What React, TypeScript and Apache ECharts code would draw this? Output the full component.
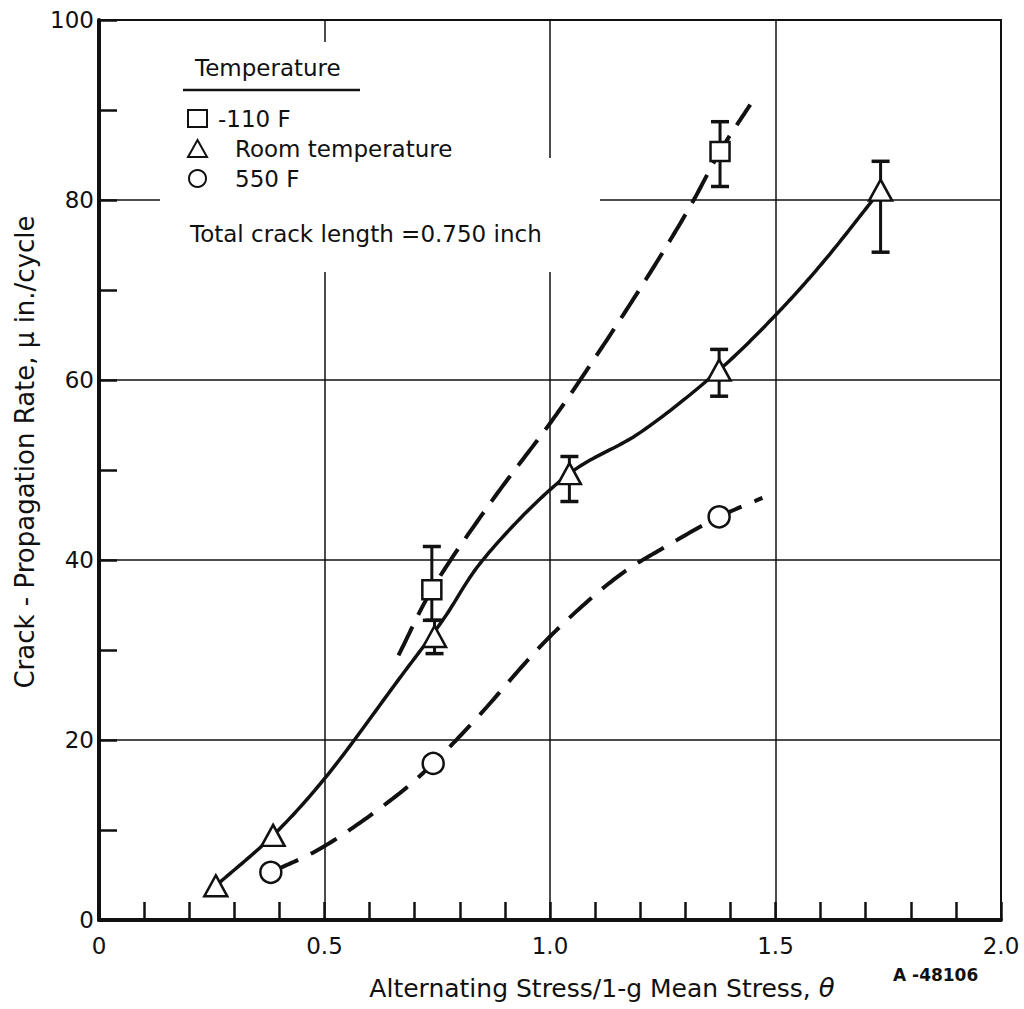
import React, { useEffect, useRef } from "react";
import * as echarts from "echarts";

// ---- data ----
const xTicks = ["0", "0.5", "1.0", "1.5", "2.0"];
const seriesNames = ["-110 F", "Room temperature", "550 F"];

// measured points (x = alternating stress ratio, y = crack propagation rate)
const coldPoints = [
  [0.738, 36.7],
  [1.377, 85.4],
];
const roomPoints = [
  [0.259, 3.8],
  [0.386, 9.4],
  [0.744, 31.5],
  [1.043, 49.6],
  [1.375, 61.1],
  [1.733, 81.1],
];
const hotPoints = [
  [0.381, 5.3],
  [0.741, 17.4],
  [1.375, 44.8],
];

// error bars: [x, low, high]
const coldErr = [
  [0.738, 33.3, 41.5],
  [1.377, 81.5, 88.7],
];
const roomErr = [
  [0.744, 29.6, 33.3],
  [1.043, 46.5, 51.5],
  [1.375, 58.2, 63.4],
  [1.733, 74.2, 84.3],
];

// faired curves
const coldCurve = [
  [0.664, 29.4],
  [0.738, 36.7],
  [0.873, 46.7],
  [1.006, 55.6],
  [1.099, 62.4],
  [1.228, 72.4],
  [1.312, 79.4],
  [1.377, 85.4],
  [1.444, 90.6],
];
const roomCurve = [
  [0.259, 3.8],
  [0.386, 9.4],
  [0.5, 15.7],
  [0.667, 26.9],
  [0.762, 33.3],
  [0.851, 40],
  [1.043, 49.6],
  [1.198, 54.1],
  [1.375, 61.1],
  [1.5, 67.2],
  [1.604, 73],
  [1.733, 81.1],
];
const hotCurve = [
  [0.381, 5.3],
  [0.493, 8.0],
  [0.662, 13.9],
  [0.741, 17.4],
  [0.837, 22.4],
  [1.0, 31.5],
  [1.154, 38.3],
  [1.257, 41.5],
  [1.375, 44.8],
  [1.471, 46.9],
];

const FONT = "DejaVu Sans";
const INK = "#111";

function errorBarRender(params: any, api: any) {
  const x = api.value(0);
  const lo = api.coord([x, api.value(1)]);
  const hi = api.coord([x, api.value(2)]);
  const w = 9;
  return {
    type: "group",
    children: [
      { type: "line", shape: { x1: hi[0], y1: hi[1], x2: lo[0], y2: lo[1] }, style: { stroke: INK, lineWidth: 3 } },
      { type: "line", shape: { x1: hi[0] - w, y1: hi[1], x2: hi[0] + w, y2: hi[1] }, style: { stroke: INK, lineWidth: 3.5 } },
      { type: "line", shape: { x1: lo[0] - w, y1: lo[1], x2: lo[0] + w, y2: lo[1] }, style: { stroke: INK, lineWidth: 3.5 } },
    ],
  };
}

// draws a smooth (centripetal Catmull-Rom) curve through the traced points,
// positioned with the chart's own coordinate system
function makeCurveRender(points: number[][], width: number, dash: number[] | null) {
  return (params: any, api: any) => {
    if (params.dataIndex !== 0) return null;
    const px: number[][] = points.map((p) => api.coord(p));
    const n = px.length;
    const out: number[][] = [];
    const lerp = (a: number[], b: number[], ta: number, tb: number, t: number) => {
      const d = tb - ta || 1e-6;
      return [((tb - t) / d) * a[0] + ((t - ta) / d) * b[0], ((tb - t) / d) * a[1] + ((t - ta) / d) * b[1]];
    };
    const dist = (a: number[], b: number[]) => Math.pow(Math.hypot(b[0] - a[0], b[1] - a[1]), 0.5) || 1e-6;
    for (let i = 0; i < n - 1; i++) {
      const p1 = px[i];
      const p2 = px[i + 1];
      const p0 = i > 0 ? px[i - 1] : [2 * p1[0] - p2[0], 2 * p1[1] - p2[1]];
      const p3 = i + 2 < n ? px[i + 2] : [2 * p2[0] - p1[0], 2 * p2[1] - p1[1]];
      const t0 = 0;
      const t1 = t0 + dist(p0, p1);
      const t2 = t1 + dist(p1, p2);
      const t3 = t2 + dist(p2, p3);
      const steps = 24;
      for (let s = 0; s <= steps; s++) {
        if (i > 0 && s === 0) continue;
        const t = t1 + ((t2 - t1) * s) / steps;
        const a1 = lerp(p0, p1, t0, t1, t);
        const a2 = lerp(p1, p2, t1, t2, t);
        const a3 = lerp(p2, p3, t2, t3, t);
        const b1 = lerp(a1, a2, t0, t2, t);
        const b2 = lerp(a2, a3, t1, t3, t);
        out.push(lerp(b1, b2, t1, t2, t));
      }
    }
    return {
      type: "polyline",
      shape: { points: out },
      style: { stroke: INK, lineWidth: width, fill: null, lineDash: dash || undefined, lineCap: "butt" },
    };
  };
}

export default function App() {
  const ref = useRef<HTMLDivElement>(null);

  useEffect(() => {
    document.body.style.margin = "0";
    const chart = echarts.init(ref.current!, null, { renderer: "svg" });
    const markerStyle = { color: "#fff", borderColor: INK, borderWidth: 2.5, opacity: 1 };

    chart.setOption({
      animation: false,
      backgroundColor: "#fff",
      textStyle: { fontFamily: FONT, color: INK },
      grid: {
        left: 99,
        right: 23,
        top: 20,
        bottom: 89,
        show: true,
        borderColor: INK,
        borderWidth: 2,
        backgroundColor: "transparent",
      },
      xAxis: {
        type: "value",
        min: 0,
        max: 2,
        interval: 0.5,
        axisLine: { show: true, onZero: false, lineStyle: { color: INK, width: 4 } },
        axisTick: { show: true, inside: true, length: 18, lineStyle: { color: INK, width: 2.5 } },
        minorTick: { show: true, splitNumber: 5, length: 18, lineStyle: { color: INK, width: 2.5 } },
        splitLine: { show: true, lineStyle: { color: INK, width: 1.5 } },
        axisLabel: {
          fontFamily: FONT,
          fontSize: 23,
          color: INK,
          margin: 14,
          formatter: (v: number) => xTicks[Math.round(v / 0.5)] ?? String(v),
        },
      },
      yAxis: {
        type: "value",
        min: 0,
        max: 100,
        interval: 20,
        axisLine: { show: true, onZero: false, lineStyle: { color: INK, width: 4 } },
        axisTick: { show: true, inside: true, length: 18, lineStyle: { color: INK, width: 2.5 } },
        minorTick: { show: true, splitNumber: 2, length: 18, lineStyle: { color: INK, width: 2.5 } },
        splitLine: { show: true, lineStyle: { color: INK, width: 1.5 } },
        axisLabel: { fontFamily: FONT, fontSize: 23, color: INK, margin: 5 },
      },
      legend: {
        data: [
          { name: seriesNames[0], textStyle: { padding: [0, 0, 0, 6] } },
          { name: seriesNames[1], textStyle: { padding: [0, 0, 0, 23] } },
          { name: seriesNames[2], textStyle: { padding: [0, 0, 0, 23] } },
        ],
        orient: "vertical",
        left: 182,
        top: 102,
        itemWidth: 19,
        itemHeight: 17,
        itemGap: 7,
        selectedMode: false,
        textStyle: { fontFamily: FONT, fontSize: 23, color: INK },
        z: 10,
      },
      graphic: [
        { type: "rect", z: 1, shape: { x: 160, y: 42, width: 385, height: 118 }, style: { fill: "#fff" } },
        { type: "rect", z: 1, shape: { x: 160, y: 158, width: 440, height: 114 }, style: { fill: "#fff" } },
        {
          type: "text",
          z: 10,
          left: 195,
          top: 56,
          style: { text: "Temperature", fontFamily: FONT, fontSize: 23, fill: INK },
        },
        {
          type: "line",
          z: 10,
          shape: { x1: 183, y1: 90, x2: 360, y2: 90 },
          style: { stroke: INK, lineWidth: 2.5 },
        },
        {
          type: "text",
          z: 10,
          left: 190,
          top: 222,
          style: { text: "Total crack length =0.750 inch", fontFamily: FONT, fontSize: 23, fill: INK },
        },
        {
          type: "text",
          z: 10,
          x: 25,
          y: 452,
          rotation: Math.PI / 2,
          style: {
            text: "Crack - Propagation Rate, \u03bc in./cycle",
            fontFamily: FONT,
            fontSize: 26,
            fill: INK,
            align: "center",
            verticalAlign: "middle",
          },
        },
        {
          type: "text",
          z: 10,
          x: 602,
          y: 988,
          style: {
            text: "{a|Alternating Stress/1-g Mean Stress, }{b|\u03b8}",
            align: "center",
            verticalAlign: "middle",
            rich: {
              a: { fontFamily: FONT, fontSize: 25, fill: INK, color: INK },
              b: { fontFamily: FONT, fontSize: 26, fontStyle: "italic", fill: INK, color: INK },
            },
          },
        },
        {
          type: "text",
          z: 10,
          left: 893,
          top: 966,
          style: { text: "A -48106", fontFamily: FONT, fontSize: 17, fontWeight: "bold", fill: INK },
        },
      ],
      series: [
        {
          name: "cold-curve",
          type: "custom",
          renderItem: makeCurveRender(coldCurve, 4, [32, 13]),
          data: coldCurve,
          encode: { x: 0, y: 1 },
          z: 2,
        },
        {
          name: "room-curve",
          type: "custom",
          renderItem: makeCurveRender(roomCurve, 3.5, null),
          data: roomCurve,
          encode: { x: 0, y: 1 },
          z: 2,
        },
        {
          name: "hot-curve",
          type: "custom",
          renderItem: makeCurveRender(hotCurve, 4, [30, 14]),
          data: hotCurve,
          encode: { x: 0, y: 1 },
          z: 2,
        },
        {
          name: "cold-err",
          type: "custom",
          renderItem: errorBarRender,
          data: coldErr,
          encode: { x: 0, y: [1, 2] },
          z: 3,
        },
        {
          name: "room-err",
          type: "custom",
          renderItem: errorBarRender,
          data: roomErr,
          encode: { x: 0, y: [1, 2] },
          z: 3,
        },
        {
          name: seriesNames[0],
          type: "scatter",
          data: coldPoints,
          symbol: "rect",
          symbolSize: 19,
          itemStyle: markerStyle,
          z: 5,
        },
        {
          name: seriesNames[1],
          type: "scatter",
          data: roomPoints,
          symbol: "triangle",
          symbolSize: [23, 21],
          itemStyle: markerStyle,
          z: 5,
        },
        {
          name: seriesNames[2],
          type: "scatter",
          data: hotPoints,
          symbol: "circle",
          symbolSize: 21,
          itemStyle: markerStyle,
          z: 5,
        },
      ],
    });
    return () => chart.dispose();
  }, []);

  return <div ref={ref} style={{ width: 1024, height: 1009 }} />;
}
